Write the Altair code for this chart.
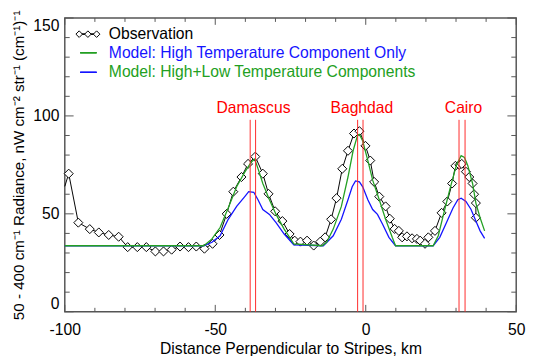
import altair as alt
import pandas as pd

# ---------------- data ----------------
obs_x = [-98.7, -95.5, -91.7, -88.7, -85.4, -82.1, -79.1, -75.9, -72.9, -69.9, -67.2, -64.5,
         -61.7, -58.9, -56.3, -53.6, -50.9, -48.6, -46.2, -44.0, -41.3, -39.1, -36.7, -34.2,
         -32.3, -30.1, -27.7, -25.3, -23.6, -21.7, -19.5, -17.3, -15.1, -13.5, -11.5, -9.7,
         -7.8, -5.9, -3.9, -2.1, -0.1, 1.5, 2.8, 4.5, 6.6, 8.0, 9.6, 11.0,
         12.1, 13.7, 15.4, 17.0, 18.1, 19.7, 20.8, 23.0, 25.2, 27.1, 28.7, 29.8,
         31.1, 31.9, 33.3, 34.4, 35.5, 36.0, 36.6, 36.6]
obs_y = [70.5, 45.5, 42.2, 40.5, 39.2, 38.3, 33.0, 33.0, 33.0, 30.8, 30.8, 31.7,
         33.3, 33.0, 33.3, 32.2, 34.7, 39.2, 50.0, 61.3, 68.8, 75.5, 79.2, 70.5,
         60.2, 51.3, 46.3, 39.7, 36.3, 35.8, 36.3, 33.8, 35.8, 38.0, 47.2, 58.0,
         73.0, 82.2, 91.0, 92.2, 84.7, 77.2, 66.3, 58.8, 53.8, 47.5, 42.3, 41.3,
         38.0, 38.5, 37.5, 37.2, 36.3, 34.7, 38.0, 41.3, 50.5, 56.3, 65.5, 74.5,
         75.0, 75.5, 71.5, 68.8, 65.5, 60.0, 55.5, 48.0]
obs_lead_x = [-100.0]
obs_lead_y = [64.0]

high_x = [-100, -53.8, -51.1, -48.4, -45.7, -42.9, -40.2, -38.0, -36.9, -35.6,
          -34.2, -32.0, -29.8, -27.1, -23.9, -14.5, -13.0, -10.8, -8.1, -5.9,
          -4.2, -2.8, -2.1, -1.0, 0.7, 2.3, 4.5, 6.6, 8.8, 9.9,
          22.4, 24.1, 25.7, 27.9, 30.1, 31.7, 32.8, 33.9, 35.5, 36.6,
          38.0, 39.5]
high_y = [33.7, 33.7, 37.2, 43.0, 53.0, 63.8, 71.3, 76.5, 78.0, 72.2,
          65.5, 57.2, 49.7, 42.2, 34.7, 33.7, 35.5, 42.2, 53.8, 68.8,
          82.2, 89.7, 90.5, 87.2, 77.2, 67.2, 57.2, 47.2, 38.0, 33.7,
          33.7, 38.8, 48.8, 62.2, 74.7, 79.7, 78.8, 74.7, 65.5, 55.5,
          48.0, 41.3]

both_x = [-100, -56.5, -53.8, -51.1, -48.4, -45.7, -42.9, -40.2, -38.9, -37.2,
          -35.8, -34.2, -32.0, -29.8, -27.1, -23.9, -14.1, -10.8, -8.1, -5.9,
          -4.5, -3.4, -2.1, -1.0, 0.7, 2.3, 3.9, 5.6, 7.7, 9.9,
          22.4, 24.6, 26.8, 29.0, 30.6, 31.7, 33.3, 35.0, 36.6, 38.0,
          39.5]
both_y = [33.7, 33.7, 33.7, 35.5, 38.8, 47.2, 53.8, 58.8, 61.3, 61.0,
          57.2, 52.2, 49.7, 45.5, 39.7, 34.2, 33.7, 38.8, 47.2, 57.2,
          63.8, 66.8, 66.3, 63.8, 57.2, 52.2, 49.7, 44.7, 38.0, 33.7,
          33.7, 38.0, 45.5, 53.0, 57.2, 58.0, 56.3, 52.2, 46.3, 41.3,
          37.5]

city_names = ["Damascus", "Baghdad", "Cairo"]
city_label_x = [-37.3, -1.3, 32.5]
city_label_y = [101.5, 101.5, 101.5]
city_line_x = [-38.4, -36.6, -2.7, -0.9, 31.0, 33.0]
city_line_bottom = [0, 0, 0, 0, 0, 0]
city_line_top = [98, 98, 98, 98, 98, 98]

x_major = [-100, -50, 0, 50]
x_minor = [-90, -80, -70, -60, -40, -30, -20, -10, 10, 20, 30, 40]
y_major = [0, 50, 100, 150]
y_minor = [10, 20, 30, 40, 60, 70, 80, 90, 110, 120, 130, 140]

legend_labels = ["Observation",
                 "Model: High Temperature Component Only",
                 "Model: High+Low Temperature Components"]

# ---------------- styling ----------------
W, H = 461, 300
FONT = "Liberation Sans"
BLUE = "#1414ff"
GREEN = "#22a022"
RED = "#ff2a2a"
TICK = "#555555"

xs = alt.Scale(domain=[-100, 50], nice=False, zero=False)
ys = alt.Scale(domain=[0, 150], nice=False, zero=False)
xaxis = alt.Axis(values=x_major, labelExpr="datum.value + ''",
                 title="Distance Perpendicular to Stripes, km",
                 ticks=False, tickSize=0, domain=False, grid=False,
                 labelPadding=10, titlePadding=4, labelFlush=False)
yaxis = alt.Axis(values=y_major, labelExpr="datum.value + ''",
                 title="50 - 400 cm\u207b\u00b9 Radiance, nW cm\u207b\u00b2 str\u207b\u00b9 (cm\u207b\u00b9)\u207b\u00b9",
                 titleFontSize=15.5,
                 ticks=False, tickSize=0, domain=False, grid=False,
                 labelPadding=6, titlePadding=6, labelFlush=True)


def X(f):
    return alt.X(f, type="quantitative", scale=xs, axis=xaxis)


def Y(f):
    return alt.Y(f, type="quantitative", scale=ys, axis=yaxis)


obs_line_df = pd.DataFrame({"x": obs_lead_x + obs_x, "y": obs_lead_y + obs_y,
                            "i": list(range(len(obs_x) + 1))})
obs_df = pd.DataFrame({"x": obs_x, "y": obs_y, "i": list(range(len(obs_x)))})
high_df = pd.DataFrame({"x": high_x, "y": high_y})
both_df = pd.DataFrame({"x": both_x, "y": both_y})
city_df = pd.DataFrame({"x": city_label_x, "y": city_label_y, "name": city_names})
cline_df = pd.DataFrame({"x": city_line_x, "y0": city_line_bottom, "y1": city_line_top})

obs_line = alt.Chart(obs_line_df).mark_line(color="black", strokeWidth=1).encode(
    x=X("x"), y=Y("y"), order=alt.Order("i:Q"))
obs_pts = alt.Chart(obs_df).mark_point(shape="diamond", filled=True, fill="white",
                                        stroke="black", strokeWidth=1, size=85,
                                        opacity=1).encode(x=X("x"), y=Y("y"))
both_line = alt.Chart(both_df).mark_line(color=BLUE, strokeWidth=1.3).encode(x=X("x"), y=Y("y"))
high_line = alt.Chart(high_df).mark_line(color=GREEN, strokeWidth=1.3).encode(x=X("x"), y=Y("y"))
city_lines = alt.Chart(cline_df).mark_rule(color=RED, strokeWidth=1).encode(
    x=X("x"), y=Y("y0"), y2=alt.Y2("y1"))
city_text = alt.Chart(city_df).mark_text(color="red", font=FONT, fontSize=16,
                                         baseline="alphabetic", align="center").encode(
    x=X("x"), y=Y("y"), text="name:N")


def tick_layer(vals, side, length):
    df = pd.DataFrame({"v": vals})
    m = alt.Chart(df).mark_rule(color=TICK, strokeWidth=1)
    if side == "bottom":
        return m.encode(x=X("v"), y=alt.value(H), y2=alt.value(H - length))
    if side == "top":
        return m.encode(x=X("v"), y=alt.value(0), y2=alt.value(length))
    if side == "left":
        return m.encode(y=Y("v"), x=alt.value(0), x2=alt.value(length))
    return m.encode(y=Y("v"), x=alt.value(W), x2=alt.value(W - length))


ticks = [
    tick_layer(x_major, "bottom", 7), tick_layer(x_minor, "bottom", 4),
    tick_layer(x_major, "top", 7), tick_layer(x_minor, "top", 4),
    tick_layer(y_major, "left", 9), tick_layer(y_minor, "left", 5),
    tick_layer(y_major, "right", 9), tick_layer(y_minor, "right", 5),
]

# ---------------- manual legend ----------------
LX0, LX1, TX = 14.7, 32.5, 45
R1, R2, R3 = 16.5, 35.5, 55.5
leg_diam_df = pd.DataFrame({"px": [14.7, 23.6, 32.5]})
leg_obs_line = alt.Chart(leg_diam_df).mark_rule(color="black", strokeWidth=1).encode(
    x=alt.value(LX0), x2=alt.value(LX1), y=alt.value(R1))
leg_obs_pts = alt.Chart(leg_diam_df).mark_point(shape="diamond", filled=True, fill="white",
                                                stroke="black", strokeWidth=1, size=45,
                                                opacity=1).encode(
    x=alt.X("px:Q", scale=None), y=alt.value(R1))
leg_green = alt.Chart(leg_diam_df).mark_rule(color=GREEN, strokeWidth=1.3).encode(
    x=alt.value(LX0 + 1), x2=alt.value(LX1), y=alt.value(R2))
leg_blue = alt.Chart(leg_diam_df).mark_rule(color=BLUE, strokeWidth=1.3).encode(
    x=alt.value(LX0 + 1), x2=alt.value(LX1), y=alt.value(R3))


def leg_text(label, color, ypx):
    return alt.Chart(pd.DataFrame({"t": [label]})).mark_text(
        align="left", baseline="middle", font=FONT, fontSize=16, color=color).encode(
        x=alt.value(TX), y=alt.value(ypx), text="t:N")


legend = [leg_obs_line, leg_obs_pts, leg_green, leg_blue,
          leg_text(legend_labels[0], "black", R1),
          leg_text(legend_labels[1], BLUE, R2),
          leg_text(legend_labels[2], GREEN, R3)]

chart = alt.layer(
    *ticks, obs_line, obs_pts, both_line, high_line, city_lines, city_text, *legend
).properties(
    width=W, height=H,
    padding={"left": 58, "top": 6.5, "right": 10, "bottom": 42},
    autosize=alt.AutoSizeParams(type="none"),
).configure_view(
    stroke="#555555", strokeWidth=1.5
).configure_axis(
    labelFont=FONT, titleFont=FONT, labelFontSize=16, titleFontSize=16,
    labelColor="black", titleColor="black", titleFontWeight="normal"
)

chart.save("out.html", embed_options={"renderer": "svg", "actions": False})
